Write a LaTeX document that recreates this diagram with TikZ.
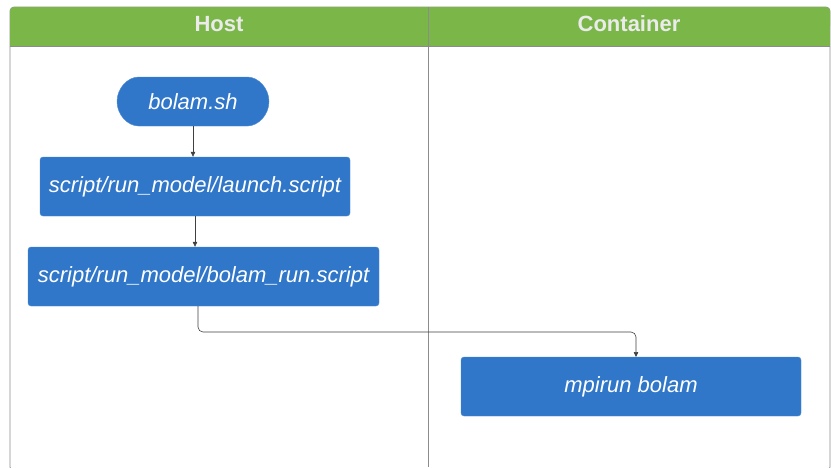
\documentclass[tikz,border=0pt]{standalone}
\usepackage{fontspec}
\setmainfont{Liberation Sans}
\usetikzlibrary{shapes.misc,arrows.meta}
\definecolor{lanegreen}{HTML}{7AB648}
\definecolor{stepblue}{HTML}{3077CA}
\definecolor{laneline}{HTML}{8C8C8C}
\tikzset{
  stepbox/.style={draw=stepblue!85!white,fill=stepblue,text=white,rounded corners=3pt,
    font=\fontsize{22}{26}\selectfont\itshape,inner sep=0pt},
  flow/.style={draw=black!75,line width=.6pt,-{Triangle[length=5pt,width=4.5pt]}},
  lanetitle/.style={text=black!8,font=\fontsize{22}{26}\selectfont\bfseries}
}

\begin{document}
\begin{tikzpicture}[x=1pt,y=-1pt]
\useasboundingbox (0,0) rectangle (831,467);
% pool
\draw[laneline,line width=.8pt,fill=white,rounded corners=4pt] (10,7) rectangle (830,471);
\fill[lanegreen,rounded corners=4pt] (10,7) rectangle (830,30);
\fill[lanegreen] (10,20) rectangle (830,46);
\draw[laneline,line width=.8pt] (10,46) -- (830,46);
\draw[laneline,line width=.8pt] (428,7) -- (428,467);
\node[lanetitle] (host) at (219,24) {Host};
\node[lanetitle] (container) at (629,24) {Container};
% steps
\node[stepbox,rounded rectangle,minimum width=152pt,minimum height=49pt] (bolam) at (193,101.5) {bolam.sh};
\node[stepbox,minimum width=310pt,minimum height=59pt] (launch) at (195,186.5) {script/run\_model/launch.script};
\node[stepbox,minimum width=351pt,minimum height=59pt] (run) at (203.5,276.5) {script/run\_model/bolam\_run.script};
\node[stepbox,minimum width=340pt,minimum height=59pt] (mpirun) at (631,386.5) {mpirun bolam};
% connectors
\coordinate (out) at (198,306);
\coordinate (in) at (636,357);
\draw[flow] (bolam.south) -- (bolam.south |- launch.north);
\draw[flow] (launch.south) -- (launch.south |- run.north);
\draw[flow,rounded corners=5pt] (out) -- (198,332) -- (636,332) -- (in);
%\draw (run.south) -- (mpirun.north);
\end{tikzpicture}
\end{document}
